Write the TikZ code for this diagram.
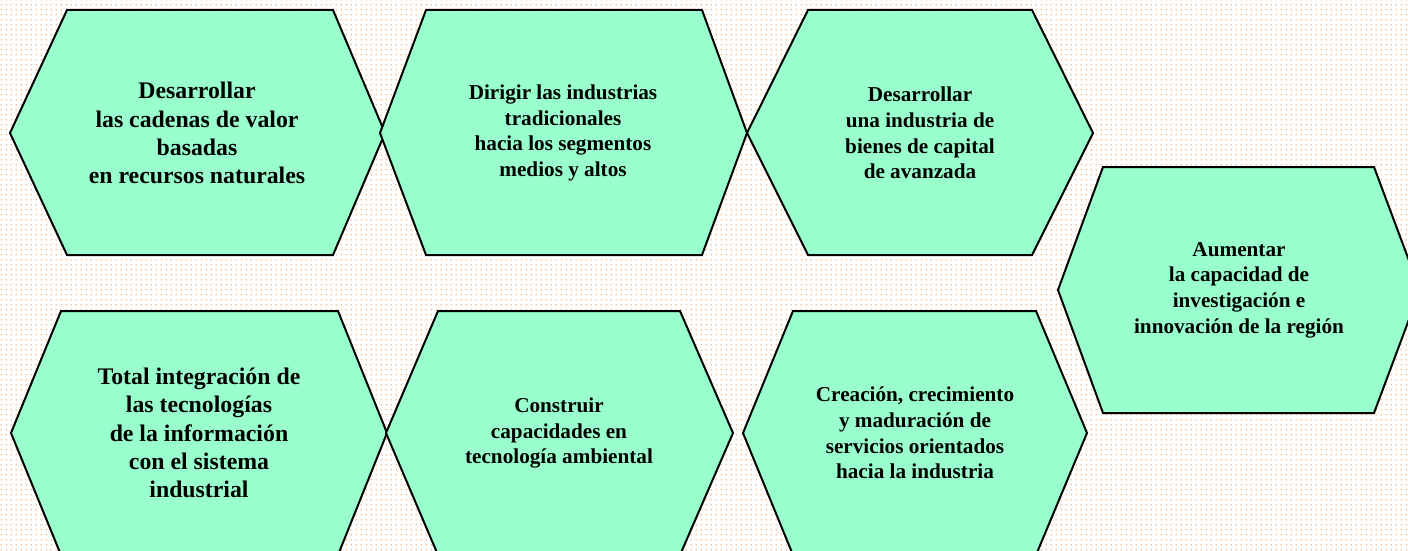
\documentclass[tikz,border=0pt]{standalone}
\usepackage{fontspec}
\setmainfont{Liberation Serif}
\usepackage{tikz}
\usetikzlibrary{patterns}
\definecolor{mint}{RGB}{153,255,204}
\definecolor{peach}{RGB}{248,192,145}
\pgfdeclarepatternformonly{peachdots}{\pgfpointorigin}{\pgfqpoint{2.6pt}{2.6pt}}{\pgfqpoint{2.6pt}{2.6pt}}{
	\pgfpathcircle{\pgfqpoint{1.3pt}{1.3pt}}{0.5pt}
	\pgfusepath{fill}
}
\tikzset{
	hexcell/.style={draw=black, fill=mint, line width=1pt, line join=miter},
	bigtext/.style={align=center, inner sep=0pt, font=\fontsize{11.9}{14.1}\selectfont\bfseries},
	smalltext/.style={align=center, inner sep=0pt, font=\fontsize{10.6}{12.8}\selectfont\bfseries}
}

\begin{document}
\begin{tikzpicture}[x=0.5pt, y=-0.5pt]
			%%%%% START %%%%%
			
			\useasboundingbox (0, 0) rectangle (1408, 551);
			\clip (0, 0) rectangle (1408, 551);
			\fill[white] (0, 0) rectangle (1408, 551);
			\fill[pattern=peachdots, pattern color=peach] (0, 0) rectangle (1408, 551);
			
			% top row
			\draw[hexcell] (67, 10) -- (333, 10) -- (385, 133) -- (333, 255) -- (67, 255) -- (10, 133) -- cycle;
			\node[bigtext] (cadenas) at (197, 133) {Desarrollar\\las cadenas de valor\\basadas\\en recursos naturales};
			
			\draw[hexcell] (426, 10) -- (702, 10) -- (747, 133) -- (702, 255) -- (426, 255) -- (380, 133) -- cycle;
			\node[smalltext] (tradicionales) at (563, 133) {Dirigir las industrias\\tradicionales\\hacia los segmentos\\medios y altos};
			
			\draw[hexcell] (808, 10) -- (1032, 10) -- (1093, 133) -- (1032, 255) -- (808, 255) -- (747, 133) -- cycle;
			\node[smalltext] (bienes) at (920, 133) {Desarrollar\\una industria de\\bienes de capital\\de avanzada};
			
			% right
			\draw[hexcell] (1103, 167) -- (1374, 167) -- (1420, 290) -- (1374, 413) -- (1103, 413) -- (1058, 290) -- cycle;
			\node[smalltext] (innovacion) at (1239, 290) {Aumentar\\la capacidad de\\investigación e\\innovación de la región};
			
			% bottom row
			\draw[hexcell] (61, 311) -- (338, 311) -- (387, 433) -- (338, 555) -- (61, 555) -- (11, 433) -- cycle;
			\node[bigtext] (tic) at (199, 433) {Total integración de\\las tecnologías\\de la información\\con el sistema\\industrial};
			
			\draw[hexcell] (438, 311) -- (680, 311) -- (733, 433) -- (680, 555) -- (438, 555) -- (386, 433) -- cycle;
			\node[smalltext] (ambiental) at (559, 433) {Construir\\capacidades en\\tecnología ambiental};
			
			\draw[hexcell] (793, 311) -- (1036, 311) -- (1087, 433) -- (1036, 555) -- (793, 555) -- (743, 433) -- cycle;
			\node[smalltext] (servicios) at (915, 433) {Creación, crecimiento\\y maduración de\\servicios orientados\\hacia la industria};
			
			%%%%% END %%%%%
\end{tikzpicture}
\end{document}
